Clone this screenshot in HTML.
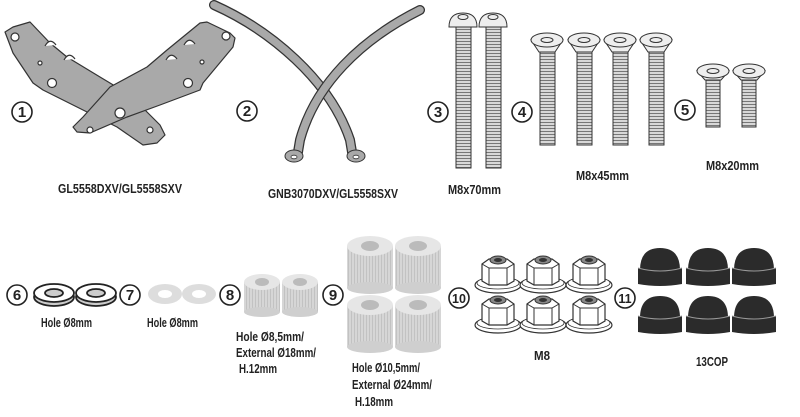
<!DOCTYPE html>
<html><head><meta charset="utf-8"><style>
html,body{margin:0;padding:0;background:#fff}
svg{display:block}
text{font-family:"Liberation Sans Narrow","Liberation Sans",sans-serif;font-weight:bold;fill:#222}
</style></head><body>
<svg width="800" height="417" viewBox="0 0 800 417" xmlns="http://www.w3.org/2000/svg">
<defs>
<pattern id="thr" width="4" height="3" patternUnits="userSpaceOnUse"><rect width="4" height="3" fill="#d8d8d8"/><rect y="2" width="4" height="1" fill="#777"/></pattern>
<pattern id="rib" width="3" height="4" patternUnits="userSpaceOnUse"><rect width="3" height="4" fill="#d6d6d6"/><rect x="2" width="1" height="4" fill="#c2c2c2"/></pattern>
<g id="nut">
<ellipse cx="0" cy="13" rx="23" ry="8" fill="#fff" stroke="#333" stroke-width="1.2"/>
<ellipse cx="0" cy="11" rx="21" ry="6" fill="#fff" stroke="#333" stroke-width="0.8"/>
<path d="M-16 -8 L-9 -13 L9 -13 L16 -8 L16 9 L9 13 L-9 13 L-16 9 Z" fill="#fff" stroke="#333" stroke-width="1.2"/>
<path d="M-16 -8 L-9 -4 L9 -4 L16 -8 M-9 -4 L-9 13 M9 -4 L9 13" fill="none" stroke="#333" stroke-width="1"/>
<ellipse cx="0" cy="-12" rx="8" ry="4" fill="#888" stroke="#333"/>
<ellipse cx="0" cy="-12" rx="4" ry="2" fill="#333"/>
</g>
<g id="cap">
<path d="M-20 2 Q-20 -20 0 -20 Q20 -20 20 2 Z" fill="#2b2b2b"/>
<path d="M-22 0 L22 0 L22 16 Q0 20 -22 16 Z" fill="#2b2b2b"/>
<path d="M-22 0 Q0 6 22 0" fill="none" stroke="#999" stroke-width="1"/>
</g>
<g id="sp8">
<rect x="-18" y="0" width="36" height="30" fill="url(#rib)"/>
<ellipse cx="0" cy="30" rx="18" ry="5" fill="#cfcfcf"/>
<ellipse cx="0" cy="0" rx="18" ry="8" fill="#e6e6e6"/>
<ellipse cx="0" cy="0" rx="7" ry="4" fill="#bbb"/>
</g>
<g id="sp9">
<rect x="-23" y="0" width="46" height="42" fill="url(#rib)"/>
<ellipse cx="0" cy="42" rx="23" ry="6" fill="#cfcfcf"/>
<ellipse cx="0" cy="0" rx="23" ry="10" fill="#e6e6e6"/>
<ellipse cx="0" cy="0" rx="9" ry="5" fill="#bbb"/>
</g>
</defs>

<!-- plates 1 -->
<polygon points="5,32 13,27 30,22 50,43 67,57 100,77 130,95 160,125 165,135 157,143 143,145 117,127 43,90 33,83 13,53" fill="#a9a9a9" stroke="#333" stroke-width="1.2" stroke-linejoin="round"/>
<polygon points="83,117 110,87 147,67 167,50 200,23 207,22 230,33 235,38 233,47 203,83 200,90 160,105 127,117 90,133 77,132 73,127" fill="#a9a9a9" stroke="#333" stroke-width="1.2" stroke-linejoin="round"/>
<g fill="#fff" stroke="#333" stroke-width="1.2">
<circle cx="15" cy="37" r="4"/><circle cx="52" cy="83" r="4.5"/><circle cx="40" cy="63" r="2"/>
<circle cx="226" cy="36" r="4"/><circle cx="188" cy="83" r="4.5"/><circle cx="202" cy="62" r="2"/>
<circle cx="120" cy="113" r="5"/><circle cx="90" cy="130" r="3"/><circle cx="150" cy="130" r="3"/>
<path d="M45 46 q5 -9 11 -1"/><path d="M64 60 q5 -9 11 -1"/><path d="M166 60 q5 -9 11 -1"/><path d="M184 45 q5 -9 11 -1"/>
</g>
<!-- straps 2 -->
<g fill="none" stroke-linecap="round">
<path d="M214 5 C270 30 330 80 350 140 L352 152" stroke="#333" stroke-width="10"/>
<path d="M214 5 C270 30 330 80 350 140 L352 152" stroke="#a9a9a9" stroke-width="7.5"/>
<path d="M420 10 C360 40 315 85 300 140 L298 152" stroke="#333" stroke-width="10"/>
<path d="M420 10 C360 40 315 85 300 140 L298 152" stroke="#a9a9a9" stroke-width="7.5"/>
</g>
<ellipse cx="294" cy="156" rx="9" ry="6" fill="#a9a9a9" stroke="#333"/><ellipse cx="294" cy="157" rx="3" ry="1.8" fill="#fff" stroke="#333" stroke-width=".8"/>
<ellipse cx="356" cy="156" rx="9" ry="6" fill="#a9a9a9" stroke="#333"/><ellipse cx="356" cy="157" rx="3" ry="1.8" fill="#fff" stroke="#333" stroke-width=".8"/>

<!-- bolts -->
<g stroke="#333" stroke-width="1">
<rect x="456" y="26" width="15" height="142" fill="url(#thr)"/>
<rect x="486" y="26" width="15" height="142" fill="url(#thr)"/>
<path d="M449 27 Q449 13 463 13 Q477 13 477 27 Z" fill="#eee"/>
<path d="M479 27 Q479 13 493 13 Q507 13 507 27 Z" fill="#eee"/>
<rect x="540" y="48" width="15" height="97" fill="url(#thr)"/>
<rect x="577" y="48" width="15" height="97" fill="url(#thr)"/>
<rect x="613" y="48" width="15" height="97" fill="url(#thr)"/>
<rect x="649" y="48" width="15" height="97" fill="url(#thr)"/>
<rect x="706" y="76" width="14" height="51" fill="url(#thr)"/>
<rect x="742" y="76" width="14" height="51" fill="url(#thr)"/>
</g>
<g fill="#eee" stroke="#333" stroke-width="1">
<path d="M531 40 L563 40 L555 52 L539 52 Z"/><ellipse cx="547" cy="40" rx="16" ry="7"/><ellipse cx="547" cy="40" rx="6" ry="2.5"/>
<path d="M568 40 L600 40 L592 52 L576 52 Z"/><ellipse cx="584" cy="40" rx="16" ry="7"/><ellipse cx="584" cy="40" rx="6" ry="2.5"/>
<path d="M604 40 L636 40 L628 52 L612 52 Z"/><ellipse cx="620" cy="40" rx="16" ry="7"/><ellipse cx="620" cy="40" rx="6" ry="2.5"/>
<path d="M640 40 L672 40 L664 52 L648 52 Z"/><ellipse cx="656" cy="40" rx="16" ry="7"/><ellipse cx="656" cy="40" rx="6" ry="2.5"/>
<path d="M697 71 L729 71 L721 80 L705 80 Z"/><ellipse cx="713" cy="71" rx="16" ry="7"/><ellipse cx="713" cy="71" rx="6" ry="2.5"/>
<path d="M733 71 L765 71 L757 80 L741 80 Z"/><ellipse cx="749" cy="71" rx="16" ry="7"/><ellipse cx="749" cy="71" rx="6" ry="2.5"/>
<ellipse cx="463" cy="17" rx="5" ry="2.5"/><ellipse cx="493" cy="17" rx="5" ry="2.5"/>
</g>

<!-- washers 6 -->
<g stroke="#222" stroke-width="1.8" fill="#ccc">
<ellipse cx="54" cy="297" rx="20" ry="9"/><ellipse cx="54" cy="293" rx="20" ry="9" fill="#fff"/><ellipse cx="54" cy="293" rx="9" ry="4"/>
<ellipse cx="96" cy="297" rx="20" ry="9"/><ellipse cx="96" cy="293" rx="20" ry="9" fill="#fff"/><ellipse cx="96" cy="293" rx="9" ry="4"/>
</g>
<!-- flat washers 7 -->
<ellipse cx="165" cy="294" rx="17" ry="10" fill="#ddd"/><ellipse cx="165" cy="294" rx="7" ry="4" fill="#fff"/>
<ellipse cx="199" cy="294" rx="17" ry="10" fill="#ddd"/><ellipse cx="199" cy="294" rx="7" ry="4" fill="#fff"/>
<!-- spacers -->
<use href="#sp8" x="262" y="282"/><use href="#sp8" x="300" y="282"/>
<use href="#sp9" x="370" y="246"/><use href="#sp9" x="418" y="246"/>
<use href="#sp9" x="370" y="305"/><use href="#sp9" x="418" y="305"/>
<!-- nuts -->
<use href="#nut" x="498" y="272"/><use href="#nut" x="543" y="272"/><use href="#nut" x="589" y="272"/>
<use href="#nut" x="498" y="312"/><use href="#nut" x="543" y="312"/><use href="#nut" x="589" y="312"/>
<!-- caps -->
<use href="#cap" x="660" y="268"/><use href="#cap" x="708" y="268"/><use href="#cap" x="754" y="268"/>
<use href="#cap" x="660" y="316"/><use href="#cap" x="708" y="316"/><use href="#cap" x="754" y="316"/>

<!-- circled numbers -->
<g fill="#fff" stroke="#222" stroke-width="1.6">
<circle cx="22" cy="112" r="10"/><circle cx="247" cy="111" r="10"/><circle cx="438" cy="112" r="10"/><circle cx="522" cy="112" r="10"/><circle cx="685" cy="110" r="10"/>
<circle cx="17" cy="295" r="10"/><circle cx="130" cy="295" r="10"/><circle cx="230" cy="295" r="10"/><circle cx="333" cy="295" r="10"/><circle cx="459" cy="298" r="10"/><circle cx="625" cy="298" r="10"/>
</g>
<g font-size="15" text-anchor="middle">
<text x="22" y="117">1</text><text x="247" y="116">2</text><text x="438" y="117">3</text><text x="522" y="117">4</text><text x="685" y="115">5</text>
<text x="17" y="300">6</text><text x="130" y="300">7</text><text x="230" y="300">8</text><text x="333" y="300">9</text>
<text x="459" y="303" font-size="12.5">10</text><text x="625" y="303" font-size="12.5">11</text>
</g>
<!-- labels -->
<g font-size="13">
<text x="58" y="193" textLength="124" lengthAdjust="spacingAndGlyphs">GL5558DXV/GL5558SXV</text>
<text x="268" y="198" textLength="130" lengthAdjust="spacingAndGlyphs">GNB3070DXV/GL5558SXV</text>
<text x="448" y="194" textLength="53" lengthAdjust="spacingAndGlyphs">M8x70mm</text>
<text x="576" y="180" textLength="53" lengthAdjust="spacingAndGlyphs">M8x45mm</text>
<text x="706" y="170" textLength="53" lengthAdjust="spacingAndGlyphs">M8x20mm</text>
<text x="41" y="327" textLength="51" lengthAdjust="spacingAndGlyphs">Hole Ø8mm</text>
<text x="147" y="327" textLength="51" lengthAdjust="spacingAndGlyphs">Hole Ø8mm</text>
<text x="236" y="341" textLength="68" lengthAdjust="spacingAndGlyphs">Hole Ø8,5mm/</text>
<text x="236" y="357" textLength="80" lengthAdjust="spacingAndGlyphs">External Ø18mm/</text>
<text x="239" y="373" textLength="38" lengthAdjust="spacingAndGlyphs">H.12mm</text>
<text x="352" y="372" textLength="68" lengthAdjust="spacingAndGlyphs">Hole Ø10,5mm/</text>
<text x="352" y="389" textLength="80" lengthAdjust="spacingAndGlyphs">External Ø24mm/</text>
<text x="355" y="406" textLength="38" lengthAdjust="spacingAndGlyphs">H.18mm</text>
<text x="534" y="360" textLength="16" lengthAdjust="spacingAndGlyphs">M8</text>
<text x="696" y="366" textLength="32" lengthAdjust="spacingAndGlyphs">13COP</text>
</g>
</svg>
</body></html>
